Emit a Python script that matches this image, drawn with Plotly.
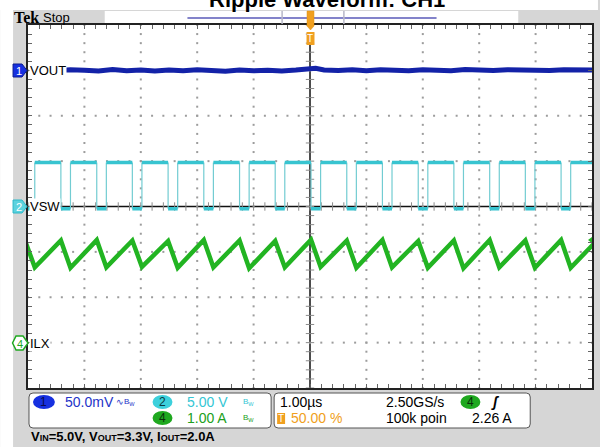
import plotly.graph_objects as go

# ---------------- data ----------------
# switching node: falling / rising edge times (us, 1.00 us/div, trigger at 0)
vsw_fall_us = [-5.050, -4.417, -3.781, -3.150, -2.516, -1.883, -1.249, -0.617, 0.018,
               0.652, 1.284, 1.919, 2.551, 3.186, 3.818, 4.452, 5.087]
vsw_rise_us = [-4.880, -4.247, -3.611, -2.980, -2.346, -1.713, -1.079, -0.447, 0.188,
               0.822, 1.454, 2.089, 2.721, 3.356, 3.988, 4.622]
vsw_high_V = 4.85
vsw_low_V = -0.25

# inductor current: peaks at VSW falling edges, valleys at VSW rising edges (A)
ilx_peak_A = [2.24, 2.25, 2.26, 2.25, 2.24, 2.26, 2.25, 2.24, 2.27, 2.25, 2.26, 2.24,
              2.25, 2.26, 2.25, 2.26, 2.25]
ilx_valley_A = [1.66, 1.65, 1.66, 1.67, 1.65, 1.66, 1.64, 1.66, 1.67, 1.65, 1.66, 1.65,
                1.64, 1.66, 1.65, 1.65]

# output ripple (AC coupled, mV)
vout_t_us = [-4.55, -4.25, -4.0, -3.75, -3.5, -3.25, -3.0, -2.75, -2.5, -2.25, -2.0, -1.75,
             -1.5, -1.25, -1.0, -0.75, -0.5, -0.25, 0.0, 0.1, 0.25, 0.5, 0.75, 1.0, 1.25,
             1.5, 1.75, 2.0, 2.25, 2.5, 2.75, 3.0, 3.25, 3.5, 3.75, 4.0, 4.25, 4.5, 4.75, 5.0]
vout_mV = [-0.5, 0.8, 0.2, -0.6, 1.0, -0.3, 0.5, -0.8, 0.3, -0.5, 0.6, -0.2, -0.9, 0.4,
           -0.4, 0.2, -0.7, 0.3, 0.9, 2.2, 0.4, -0.2, 0.6, -0.3, 0.8, 0.1, -0.5, 0.7, 0.2,
           -0.3, 0.9, 0.4, -0.2, 0.8, 0.3, 0.6, -0.1, 0.7, 0.4, 0.5]

ch1_scale_mV, ch2_scale_V, ch4_scale_A = 50.0, 5.0, 1.0
ch1_pos, ch2_pos, ch4_pos = 3.0, 0.0, -3.0     # divisions
trig_level_A = 2.26

# ---------------- geometry helpers (pixel -> paper) ----------------
W, H = 600, 447
L, R, T, B = 28, 6, 25, 59
PW, PH = W - L - R, H - T - B


def px(x):
    return (x - L) / PW


def py(y):
    return (H - B - y) / PH


fig = go.Figure()

# ---------------- graticule dots ----------------
gx, gy = [], []
for xm in [-4, -3, -2, -1, 1, 2, 3, 4]:
    for k in range(-20, 21):
        gx.append(xm)
        gy.append(k * 0.2)
for ym in [-3, -2, -1, 1, 2, 3]:
    for k in range(-25, 26):
        gx.append(k * 0.2)
        gy.append(ym)
fig.add_trace(go.Scatter(x=gx, y=gy, mode="markers",
                         marker=dict(symbol="square", size=2, color="#9c9c9c", line=dict(width=0)),
                         hoverinfo="skip", showlegend=False))

# graticule centre-line ticks
cx = [k * 0.2 for k in range(-25, 26)]
cy = [k * 0.2 for k in range(-20, 21)]
fig.add_trace(go.Scatter(x=cx, y=[0] * len(cx), mode="markers",
                         marker=dict(symbol="line-ns", size=6, line=dict(color="#8a8a8a", width=1)),
                         hoverinfo="skip", showlegend=False))
fig.add_trace(go.Scatter(x=[0] * len(cy), y=cy, mode="markers",
                         marker=dict(symbol="line-ew", size=6, line=dict(color="#8a8a8a", width=1)),
                         hoverinfo="skip", showlegend=False))

# ---------------- waveforms ----------------
# VSW levels (thick) + edges (thin)
lx, ly, ex, ey = [], [], [], []
hi = vsw_high_V / ch2_scale_V + ch2_pos
lo = vsw_low_V / ch2_scale_V + ch2_pos
for i, r in enumerate(vsw_rise_us):
    f0 = vsw_fall_us[i]
    f1 = vsw_fall_us[i + 1]
    lx += [f0, r, None, r, f1, None]
    ly += [lo, lo, None, hi, hi, None]
    ex += [f0, f0, None, r, r, None]
    ey += [hi, lo, None, lo, hi, None]
fig.add_trace(go.Scatter(x=ex, y=ey, mode="lines", line=dict(color="#72ccd2", width=1.2),
                         hoverinfo="skip", showlegend=False))
fig.add_trace(go.Scatter(x=lx, y=ly, mode="lines", line=dict(color="#38c4d0", width=3.5),
                         hoverinfo="skip", showlegend=False))

# ILX triangle
ix, iy = [], []
for i, f in enumerate(vsw_fall_us):
    ix.append(f)
    iy.append(ilx_peak_A[i] / ch4_scale_A + ch4_pos)
    if i < len(vsw_rise_us):
        ix.append(vsw_rise_us[i])
        iy.append(ilx_valley_A[i] / ch4_scale_A + ch4_pos)
fig.add_trace(go.Scatter(x=ix, y=iy, mode="lines", line=dict(color="#22b422", width=4.5),
                         hoverinfo="skip", showlegend=False))

# VOUT
fig.add_trace(go.Scatter(x=vout_t_us, y=[v / ch1_scale_mV + ch1_pos for v in vout_mV],
                         mode="lines", line=dict(color="#1322a8", width=5),
                         hoverinfo="skip", showlegend=False))

# trigger level marker (right edge)
fig.add_trace(go.Scatter(x=[5.0], y=[trig_level_A / ch4_scale_A + ch4_pos], mode="markers",
                         marker=dict(symbol="triangle-left", size=8, color="#22b422"),
                         cliponaxis=False, hoverinfo="skip", showlegend=False))

# ---------------- shapes ----------------
GRAY = "#d6d6d6"


def rounded(x0, y0, x1, y1, r=4):
    return (f"M {px(x0 + r)},{py(y0)} L {px(x1 - r)},{py(y0)} Q {px(x1)},{py(y0)} {px(x1)},{py(y0 + r)} "
            f"L {px(x1)},{py(y1 - r)} Q {px(x1)},{py(y1)} {px(x1 - r)},{py(y1)} L {px(x0 + r)},{py(y1)} "
            f"Q {px(x0)},{py(y1)} {px(x0)},{py(y1 - r)} L {px(x0)},{py(y0 + r)} Q {px(x0)},{py(y0)} {px(x0 + r)},{py(y0)} Z")


shapes = [
    dict(type="rect", xref="paper", yref="paper", x0=px(0), x1=px(W), y0=py(0), y1=py(10),
         fillcolor="white", line=dict(width=0), layer="below"),
    dict(type="rect", xref="paper", yref="paper", x0=px(0), x1=px(13), y0=py(0), y1=py(H),
         fillcolor="white", line=dict(width=0), layer="below"),
    # record view box in top band
    dict(type="rect", xref="paper", yref="paper", x0=px(105), x1=px(520), y0=py(11), y1=py(24),
         fillcolor="white", line=dict(width=0), layer="below"),
    dict(type="line", xref="paper", yref="paper", x0=px(188), x1=px(438), y0=py(18), y1=py(18),
         line=dict(color="#5a5ab8", width=1.5)),
    dict(type="line", xref="paper", yref="paper", x0=px(283), x1=px(283), y0=py(11), y1=py(24),
         line=dict(color="#b8b8c8", width=1.5)),
    dict(type="line", xref="paper", yref="paper", x0=px(345), x1=px(345), y0=py(11), y1=py(24),
         line=dict(color="#b8b8c8", width=1.5)),
    # trigger position marker
    dict(type="path", xref="paper", yref="paper",
         path=f"M {px(308)},{py(11)} L {px(315)},{py(11)} L {px(315)},{py(26)} L {px(311.5)},{py(30)} L {px(308)},{py(26)} Z",
         fillcolor="#f0a020", line=dict(color="#e09010", width=0.5)),
    dict(type="rect", xref="paper", yref="paper", x0=px(307.5), x1=px(315.5), y0=py(32), y1=py(45),
         fillcolor="#f0a020", line=dict(width=0)),
    # centre lines
    dict(type="line", xref="x", yref="paper", x0=0, x1=0, y0=0, y1=py(45),
         line=dict(color="#111111", width=1.5), layer="below"),
    dict(type="line", xref="paper", yref="y", x0=0, x1=1, y0=0, y1=0,
         line=dict(color="#111111", width=1.5), layer="below"),
    # info boxes
    dict(type="path", xref="paper", yref="paper", path=rounded(29, 393, 272, 428),
         fillcolor="white", line=dict(color="#555555", width=1)),
    dict(type="path", xref="paper", yref="paper", path=rounded(275, 393, 532, 428),
         fillcolor="white", line=dict(color="#555555", width=1)),
    # channel badges in info box
    dict(type="circle", xref="paper", yref="paper", x0=px(33), x1=px(55), y0=py(395), y1=py(409),
         fillcolor="#1630e0", line=dict(width=0)),
    dict(type="circle", xref="paper", yref="paper", x0=px(153), x1=px(173), y0=py(395), y1=py(409),
         fillcolor="#3cd0dc", line=dict(width=0)),
    dict(type="circle", xref="paper", yref="paper", x0=px(153), x1=px(173), y0=py(411), y1=py(425),
         fillcolor="#1fa81f", line=dict(width=0)),
    dict(type="circle", xref="paper", yref="paper", x0=px(462), x1=px(482), y0=py(395), y1=py(409),
         fillcolor="#1fa81f", line=dict(width=0)),
    dict(type="rect", xref="paper", yref="paper", x0=px(278), x1=px(286), y0=py(413), y1=py(424),
         fillcolor="#f0a020", line=dict(width=0)),
    # left channel markers
    dict(type="path", xref="paper", yref="paper",
         path=f"M {px(13)},{py(64)} L {px(22)},{py(64)} L {px(27)},{py(70.5)} L {px(22)},{py(77)} L {px(13)},{py(77)} Z",
         fillcolor="#1630e0", line=dict(color="#0a1a90", width=1)),
    dict(type="path", xref="paper", yref="paper",
         path=f"M {px(13)},{py(200)} L {px(22)},{py(200)} L {px(27)},{py(206.6)} L {px(22)},{py(213)} L {px(13)},{py(213)} Z",
         fillcolor="#5cd2de", line=dict(color="#2cb8c8", width=1)),
    dict(type="path", xref="paper", yref="paper",
         path=f"M {px(16)},{py(336)} L {px(23)},{py(336)} L {px(28)},{py(343)} L {px(23)},{py(350)} L {px(16)},{py(350)} L {px(12.5)},{py(343)} Z",
         fillcolor="white", line=dict(color="#1fa81f", width=1.5)),
]

# ---------------- annotations ----------------
NARROW = "Liberation Sans Narrow, Arial Narrow, Arial, sans-serif"
SANS = "Liberation Sans, Arial, sans-serif"


def ann(text, x, y, size=13, color="black", xanchor="left", family=NARROW, **kw):
    return dict(text=text, x=px(x), y=py(y), xref="paper", yref="paper", showarrow=False,
                xanchor=xanchor, yanchor="middle", font=dict(size=size, color=color, family=family), **kw)


anns = [
    dict(text="<b>Ripple Waveform: CH1</b>", x=px(328), y=py(14), xref="paper", yref="paper",
         showarrow=False, xanchor="center", yanchor="bottom",
         font=dict(size=22, color="black", family=SANS)),
    ann("<b>Tek</b>", 12, 17, size=16, family="Liberation Serif, Times New Roman, serif"),
    ann("Stop", 41, 17, size=13),
    ann("T", 311.5, 39, size=10, color="white", xanchor="center", family="Arial"),
    # trace labels
    ann("VOUT", 29, 71, size=13, family=SANS, bgcolor="white", borderpad=0),
    ann("VSW", 29, 207, size=13, family=SANS, bgcolor="white", borderpad=0),
    ann("ILX", 29, 343.5, size=13, family=SANS, bgcolor="white", borderpad=0),
    ann("1", 19, 71, size=11, color="white", xanchor="center", family="Arial"),
    ann("2", 19, 207, size=11, color="white", xanchor="center", family="Arial"),
    ann("4", 20, 343.5, size=11, color="#1fa81f", xanchor="center", family="Arial"),
    # info box 1
    ann("1", 44, 402.5, size=12, color="#0a0a50", xanchor="center"),
    ann("50.0mV", 63, 402.5, size=14, color="#2434c8"),
    ann("∿", 114, 401.5, size=9, color="#2434c8"),
    ann("B<sub>W</sub>", 122, 401.5, size=8, color="#2434c8"),
    ann("2", 163, 402.5, size=12, color="#0a3a40", xanchor="center"),
    ann("5.00 V", 186, 402.5, size=14, color="#34c6d4"),
    ann("B<sub>W</sub>", 242, 401.5, size=8, color="#34c6d4"),
    ann("4", 163, 418.5, size=12, color="#0a300a", xanchor="center"),
    ann("1.00 A", 186, 418.5, size=14, color="#20a020"),
    ann("B<sub>W</sub>", 242, 417.5, size=8, color="#20a020"),
    # info box 2
    ann("1.00µs", 279, 402.5, size=14),
    ann("2.50GS/s", 385, 402.5, size=14),
    ann("4", 472, 402.5, size=12, color="#0a300a", xanchor="center"),
    ann("<i><b>ʃ</b></i>", 491, 402.5, size=14),
    ann("T", 282, 418.5, size=10, color="white", xanchor="center", family="Arial"),
    ann("50.00 %", 290, 418.5, size=14, color="#f0a020"),
    ann("100k poin", 385, 418.5, size=14),
    ann("2.26 A", 472, 418.5, size=14),
    # conditions line
    ann("<b>V<span style='font-size:9px'>IN</span>=5.0V, V<span style='font-size:9px'>OUT</span>=3.3V, "
        "I<span style='font-size:9px'>OUT</span>=2.0A</b>", 29, 437, size=13, family=NARROW),
]

# ---------------- layout ----------------
axis_common = dict(showgrid=False, zeroline=False, showticklabels=False,
                   showline=True, linecolor="#222222", linewidth=2, mirror="allticks",
                   ticks="inside", ticklen=4, tickcolor="#666666", fixedrange=True)
fig.update_layout(
    width=W, height=H, margin=dict(l=L, r=R, t=T, b=B, pad=0),
    paper_bgcolor=GRAY, plot_bgcolor="white", showlegend=False,
    shapes=shapes, annotations=anns,
    xaxis=dict(range=[-5, 5], tickmode="linear", tick0=0, dtick=0.2, **axis_common),
    yaxis=dict(range=[-4, 4], tickmode="linear", tick0=0, dtick=0.2, **axis_common),
)

fig.write_html("out.html")
